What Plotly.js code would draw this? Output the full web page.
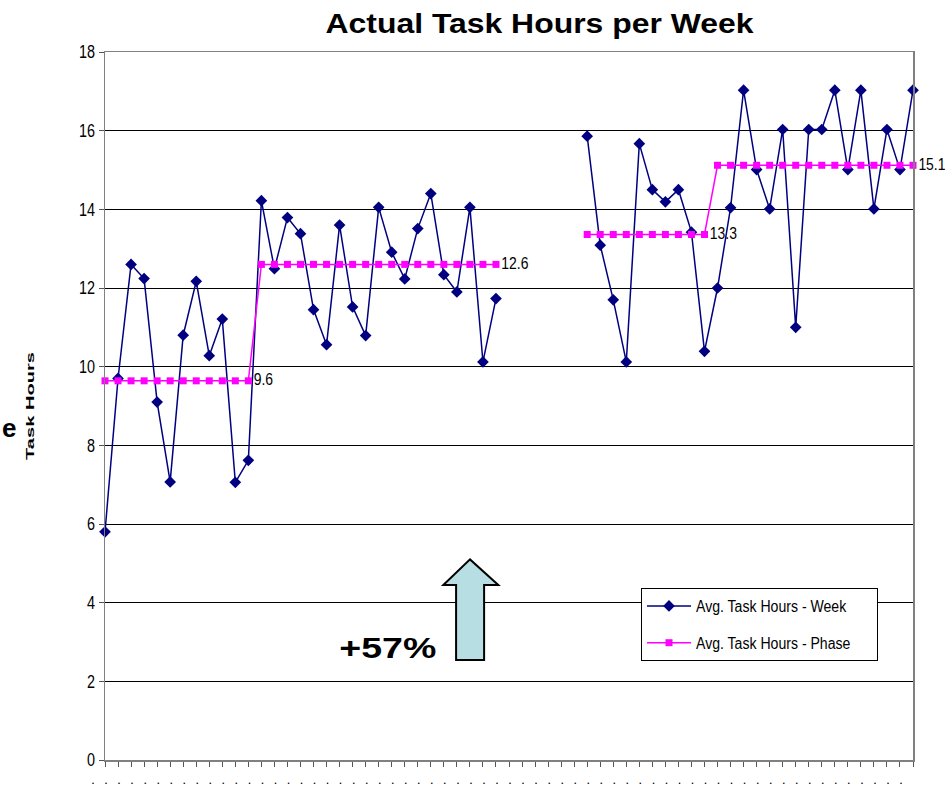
<!DOCTYPE html>
<html>
<head>
<meta charset="utf-8">
<script src="https://cdn.plot.ly/plotly-3.0.1.min.js"></script>
<style>html,body{margin:0;padding:0;background:#fff;}#chart{width:951px;height:785px;}</style>
</head>
<body>
<div id="chart"></div>
<script>
// ---- data ----
var weeks = [];
for (var i = 0; i < 63; i++) weeks.push(i);

var weekHours = [
  5.8, 9.7, 12.6, 12.24, 9.1, 7.07, 10.8, 12.17, 10.28, 11.21,
  7.06, 7.62, 14.22, 12.49, 13.79, 13.38, 11.45, 10.56, 13.6, 11.52,
  10.79, 14.05, 12.91, 12.23, 13.51, 14.4, 12.34, 11.9, 14.05, 10.12,
  11.73, null, null, null, null, null, null, 15.86, 13.09, 11.7,
  10.12, 15.67, 14.5, 14.19, 14.5, 13.42, 10.39, 12.0, 14.04, 17.03,
  15.01, 14.01, 16.03, 11.0, 16.03, 16.03, 17.03, 15.01, 17.03, 14.01,
  16.03, 15.01, 17.03
];

var phaseLevels = [9.64, 12.6, 13.36, 15.12];
var phaseLabels = ["9.6", "12.6", "13.3", "15.1"];
var phaseStart = [0, 12, 37, 47];
var phaseEnd   = [11, 30, 46, 62];

var weekName = "Avg. Task Hours - Week";
var phaseName = "Avg. Task Hours - Phase";
var tickText = [];
for (var k = 0; k < 63; k++) tickText.push(".");

// build phase series
var phaseHours = [], phaseText = [];
for (var j = 0; j < 63; j++) { phaseHours.push(null); phaseText.push(""); }
for (var p = 0; p < phaseLevels.length; p++) {
  for (var q = phaseStart[p]; q <= phaseEnd[p]; q++) phaseHours[q] = phaseLevels[p];
  phaseText[phaseEnd[p]] = phaseLabels[p];
}

var ARIAL = "Liberation Sans, Arial, sans-serif";

var traces = [
  {
    x: weeks, y: weekHours, name: weekName, type: "scatter", mode: "lines+markers",
    connectgaps: false, legendgroup: "a",
    line: {color: "#000080", width: 1.5},
    marker: {symbol: "diamond", size: 9, color: "#000080"},
    cliponaxis: false
  },
  {
    x: weeks, y: phaseHours, name: phaseName, type: "scatter", mode: "lines+markers+text",
    connectgaps: false, legendgroup: "b",
    text: phaseText, textposition: "middle right",
    textfont: {family: ARIAL, size: 17, color: "#000"},
    line: {color: "#ff00ff", width: 1.5},
    marker: {symbol: "square", size: 7, color: "#ff00ff"},
    cliponaxis: false
  }
];

var layout = {
  width: 951, height: 785,
  margin: {l: 105, r: 38, t: 52, b: 25, pad: 0},
  paper_bgcolor: "#fff", plot_bgcolor: "#fff",
  showlegend: true,
  title: {
    text: "<b>Actual Task Hours per Week</b>",
    font: {family: ARIAL, size: 28, color: "#000"},
    x: 539.5 / 951, xref: "container", xanchor: "center",
    y: 1 - 23 / 785, yref: "container", yanchor: "middle"
  },
  xaxis: {
    range: [0, 62], tickvals: weeks, ticktext: tickText,
    ticks: "outside", ticklen: 5, tickcolor: "#555", tickwidth: 1,
    showgrid: false, zeroline: false,
    showline: true, linecolor: "#808080", linewidth: 1.5, mirror: true,
    tickfont: {family: ARIAL, size: 9, color: "#000", weight: "bold"},
    ticklabelshift: -12, ticklabelstandoff: 7,
    fixedrange: true
  },
  yaxis: {
    range: [0, 18], dtick: 2, tick0: 0,
    ticks: "outside", ticklen: 5, tickcolor: "#555",
    showgrid: true, gridcolor: "#000", gridwidth: 1,
    zeroline: false,
    showline: true, linecolor: "#808080", linewidth: 1.5, mirror: true,
    tickfont: {family: ARIAL, size: 18, color: "#000"},
    title: {text: "<b>Task Hours</b>", font: {family: ARIAL, size: 11, color: "#000"}, standoff: 38},
    fixedrange: true
  },
  legend: {
    x: (641 - 105) / (913 - 105), y: (760 - 588) / 708,
    xanchor: "left", yanchor: "top",
    bgcolor: "#fff", bordercolor: "#000", borderwidth: 1,
    font: {family: ARIAL, size: 16, color: "#000"},
    traceorder: "grouped", tracegroupgap: 13, itemwidth: 44
  },
  shapes: [
    {
      type: "path", xref: "x", yref: "y",
      path: "M 26.94,2.54 L 26.94,4.45 L 25.96,4.45 L 28.01,5.10 L 30.18,4.45 L 29.09,4.45 L 29.09,2.54 Z",
      fillcolor: "#b7dfe3", line: {color: "#000", width: 2}
    }
  ],
  annotations: [
    {
      text: "<b>+57%</b>", xref: "x", yref: "y", x: 21.7, y: 2.85,
      showarrow: false, font: {family: ARIAL, size: 30, color: "#000"},
      xanchor: "center", yanchor: "middle"
    },
    {
      text: "<b>e</b>", xref: "paper", yref: "paper",
      x: -104 / 808, y: (760 - 428) / 708,
      xanchor: "left", yanchor: "middle",
      showarrow: false, borderpad: 0,
      font: {family: ARIAL, size: 26, color: "#000"}
    }
  ]
};

function squeeze(gd, sel, factor) {
  gd.querySelectorAll(sel).forEach(function (t) {
    var L = t.getComputedTextLength();
    if (L > 0) {
      t.setAttribute("textLength", (L * factor).toFixed(1));
      t.setAttribute("lengthAdjust", "spacingAndGlyphs");
    }
  });
}
function fitLength(gd, sel, len) {
  var t = gd.querySelector(sel);
  if (t) {
    t.setAttribute("textLength", len);
    t.setAttribute("lengthAdjust", "spacingAndGlyphs");
  }
}
function stretchRotated(gd, sel, len) {
  var t = gd.querySelector(sel);
  if (!t) return;
  var L = t.getComputedTextLength();
  if (!(L > 0)) return;
  var s = len / L;
  var x = parseFloat(t.getAttribute("x")) || 0;
  var y = parseFloat(t.getAttribute("y")) || 0;
  var tr = t.getAttribute("transform") || "";
  t.setAttribute("transform", tr + " translate(" + x + "," + y + ") scale(" + s.toFixed(3) + ",1) translate(" + (-x) + "," + (-y) + ")");
}

Plotly.newPlot("chart", traces, layout, {displayModeBar: false, staticPlot: true}).then(function (gd) {
  // narrow-font look of the original
  squeeze(gd, ".ytick text", 0.8);
  squeeze(gd, ".legendtext", 0.88);
  squeeze(gd, ".textpoint text", 0.82);
  // stretched headings of the original
  fitLength(gd, ".gtitle", 428);
  stretchRotated(gd, ".g-ytitle text", 108);
  fitLength(gd, ".annotation[data-index='0'] text", 97);
});
</script>
</body>
</html>
